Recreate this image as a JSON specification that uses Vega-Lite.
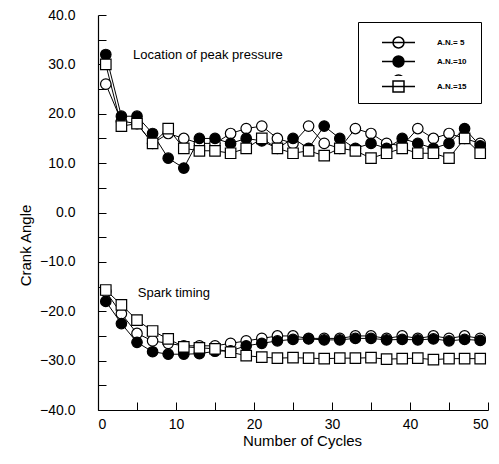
{
  "$schema": "https://vega.github.io/schema/vega-lite/v6.json",
  "width": 390,
  "height": 395,
  "autosize": "none",
  "padding": {"left": 98, "top": 15, "right": 11, "bottom": 54},
  "config": {
    "view": {"stroke": null},
    "font": "Liberation Sans",
    "axis": {"grid": false, "domainColor": "black", "domainWidth": 1.2, "tickColor": "black", "tickWidth": 1, "labelColor": "black", "titleColor": "black", "labelFont": "Liberation Sans", "titleFont": "Liberation Sans", "labelFontSize": 14, "titleFontSize": 15, "titleFontWeight": "normal"}
  },
  "datasets": {
    "pts": [
      {"series":"A.N.= 5","group":"peak","cycle":1,"value":26},{"series":"A.N.= 5","group":"peak","cycle":3,"value":18.5},{"series":"A.N.= 5","group":"peak","cycle":5,"value":18},{"series":"A.N.= 5","group":"peak","cycle":7,"value":14},{"series":"A.N.= 5","group":"peak","cycle":9,"value":16},{"series":"A.N.= 5","group":"peak","cycle":11,"value":15},{"series":"A.N.= 5","group":"peak","cycle":13,"value":14},{"series":"A.N.= 5","group":"peak","cycle":15,"value":14},{"series":"A.N.= 5","group":"peak","cycle":17,"value":16},{"series":"A.N.= 5","group":"peak","cycle":19,"value":17},{"series":"A.N.= 5","group":"peak","cycle":21,"value":17.5},{"series":"A.N.= 5","group":"peak","cycle":23,"value":15},{"series":"A.N.= 5","group":"peak","cycle":25,"value":14},{"series":"A.N.= 5","group":"peak","cycle":27,"value":17.5},{"series":"A.N.= 5","group":"peak","cycle":29,"value":14},{"series":"A.N.= 5","group":"peak","cycle":31,"value":13},{"series":"A.N.= 5","group":"peak","cycle":33,"value":17},{"series":"A.N.= 5","group":"peak","cycle":35,"value":16},{"series":"A.N.= 5","group":"peak","cycle":37,"value":14},{"series":"A.N.= 5","group":"peak","cycle":39,"value":13.5},{"series":"A.N.= 5","group":"peak","cycle":41,"value":17},{"series":"A.N.= 5","group":"peak","cycle":43,"value":15},{"series":"A.N.= 5","group":"peak","cycle":45,"value":16},{"series":"A.N.= 5","group":"peak","cycle":47,"value":15},{"series":"A.N.= 5","group":"peak","cycle":49,"value":14},
      {"series":"A.N.=10","group":"peak","cycle":1,"value":32},{"series":"A.N.=10","group":"peak","cycle":3,"value":19.5},{"series":"A.N.=10","group":"peak","cycle":5,"value":19.5},{"series":"A.N.=10","group":"peak","cycle":7,"value":16},{"series":"A.N.=10","group":"peak","cycle":9,"value":11},{"series":"A.N.=10","group":"peak","cycle":11,"value":9},{"series":"A.N.=10","group":"peak","cycle":13,"value":15},{"series":"A.N.=10","group":"peak","cycle":15,"value":15},{"series":"A.N.=10","group":"peak","cycle":17,"value":14},{"series":"A.N.=10","group":"peak","cycle":19,"value":15},{"series":"A.N.=10","group":"peak","cycle":21,"value":14.5},{"series":"A.N.=10","group":"peak","cycle":23,"value":13},{"series":"A.N.=10","group":"peak","cycle":25,"value":15},{"series":"A.N.=10","group":"peak","cycle":27,"value":13},{"series":"A.N.=10","group":"peak","cycle":29,"value":17.5},{"series":"A.N.=10","group":"peak","cycle":31,"value":15},{"series":"A.N.=10","group":"peak","cycle":33,"value":13},{"series":"A.N.=10","group":"peak","cycle":35,"value":14},{"series":"A.N.=10","group":"peak","cycle":37,"value":13},{"series":"A.N.=10","group":"peak","cycle":39,"value":15},{"series":"A.N.=10","group":"peak","cycle":41,"value":14},{"series":"A.N.=10","group":"peak","cycle":43,"value":13},{"series":"A.N.=10","group":"peak","cycle":45,"value":14},{"series":"A.N.=10","group":"peak","cycle":47,"value":17},{"series":"A.N.=10","group":"peak","cycle":49,"value":13.5},
      {"series":"A.N.=15","group":"peak","cycle":1,"value":30},{"series":"A.N.=15","group":"peak","cycle":3,"value":17.5},{"series":"A.N.=15","group":"peak","cycle":5,"value":18},{"series":"A.N.=15","group":"peak","cycle":7,"value":14},{"series":"A.N.=15","group":"peak","cycle":9,"value":17},{"series":"A.N.=15","group":"peak","cycle":11,"value":13},{"series":"A.N.=15","group":"peak","cycle":13,"value":12.5},{"series":"A.N.=15","group":"peak","cycle":15,"value":12.5},{"series":"A.N.=15","group":"peak","cycle":17,"value":12},{"series":"A.N.=15","group":"peak","cycle":19,"value":13},{"series":"A.N.=15","group":"peak","cycle":21,"value":15},{"series":"A.N.=15","group":"peak","cycle":23,"value":13},{"series":"A.N.=15","group":"peak","cycle":25,"value":12},{"series":"A.N.=15","group":"peak","cycle":27,"value":12.5},{"series":"A.N.=15","group":"peak","cycle":29,"value":11.5},{"series":"A.N.=15","group":"peak","cycle":31,"value":13},{"series":"A.N.=15","group":"peak","cycle":33,"value":12.5},{"series":"A.N.=15","group":"peak","cycle":35,"value":11},{"series":"A.N.=15","group":"peak","cycle":37,"value":12},{"series":"A.N.=15","group":"peak","cycle":39,"value":13},{"series":"A.N.=15","group":"peak","cycle":41,"value":12},{"series":"A.N.=15","group":"peak","cycle":43,"value":12},{"series":"A.N.=15","group":"peak","cycle":45,"value":11},{"series":"A.N.=15","group":"peak","cycle":47,"value":15},{"series":"A.N.=15","group":"peak","cycle":49,"value":12},
      {"series":"A.N.= 5","group":"spark","cycle":1,"value":-16},{"series":"A.N.= 5","group":"spark","cycle":3,"value":-20.5},{"series":"A.N.= 5","group":"spark","cycle":5,"value":-24.5},{"series":"A.N.= 5","group":"spark","cycle":7,"value":-26},{"series":"A.N.= 5","group":"spark","cycle":9,"value":-26.5},{"series":"A.N.= 5","group":"spark","cycle":11,"value":-27},{"series":"A.N.= 5","group":"spark","cycle":13,"value":-27},{"series":"A.N.= 5","group":"spark","cycle":15,"value":-27},{"series":"A.N.= 5","group":"spark","cycle":17,"value":-26.5},{"series":"A.N.= 5","group":"spark","cycle":19,"value":-26},{"series":"A.N.= 5","group":"spark","cycle":21,"value":-25.5},{"series":"A.N.= 5","group":"spark","cycle":23,"value":-25},{"series":"A.N.= 5","group":"spark","cycle":25,"value":-25},{"series":"A.N.= 5","group":"spark","cycle":27,"value":-25.5},{"series":"A.N.= 5","group":"spark","cycle":29,"value":-25.5},{"series":"A.N.= 5","group":"spark","cycle":31,"value":-25.5},{"series":"A.N.= 5","group":"spark","cycle":33,"value":-25},{"series":"A.N.= 5","group":"spark","cycle":35,"value":-25},{"series":"A.N.= 5","group":"spark","cycle":37,"value":-25.5},{"series":"A.N.= 5","group":"spark","cycle":39,"value":-25},{"series":"A.N.= 5","group":"spark","cycle":41,"value":-25.5},{"series":"A.N.= 5","group":"spark","cycle":43,"value":-25},{"series":"A.N.= 5","group":"spark","cycle":45,"value":-25.5},{"series":"A.N.= 5","group":"spark","cycle":47,"value":-25},{"series":"A.N.= 5","group":"spark","cycle":49,"value":-25.5},
      {"series":"A.N.=10","group":"spark","cycle":1,"value":-18},{"series":"A.N.=10","group":"spark","cycle":3,"value":-22.5},{"series":"A.N.=10","group":"spark","cycle":5,"value":-26.3},{"series":"A.N.=10","group":"spark","cycle":7,"value":-28.2},{"series":"A.N.=10","group":"spark","cycle":9,"value":-28.7},{"series":"A.N.=10","group":"spark","cycle":11,"value":-28.7},{"series":"A.N.=10","group":"spark","cycle":13,"value":-28.6},{"series":"A.N.=10","group":"spark","cycle":15,"value":-28.1},{"series":"A.N.=10","group":"spark","cycle":17,"value":-28},{"series":"A.N.=10","group":"spark","cycle":19,"value":-27},{"series":"A.N.=10","group":"spark","cycle":21,"value":-26.5},{"series":"A.N.=10","group":"spark","cycle":23,"value":-26},{"series":"A.N.=10","group":"spark","cycle":25,"value":-25.7},{"series":"A.N.=10","group":"spark","cycle":27,"value":-25.6},{"series":"A.N.=10","group":"spark","cycle":29,"value":-25.8},{"series":"A.N.=10","group":"spark","cycle":31,"value":-25.8},{"series":"A.N.=10","group":"spark","cycle":33,"value":-25.5},{"series":"A.N.=10","group":"spark","cycle":35,"value":-25.5},{"series":"A.N.=10","group":"spark","cycle":37,"value":-25.8},{"series":"A.N.=10","group":"spark","cycle":39,"value":-25.7},{"series":"A.N.=10","group":"spark","cycle":41,"value":-25.8},{"series":"A.N.=10","group":"spark","cycle":43,"value":-25.6},{"series":"A.N.=10","group":"spark","cycle":45,"value":-26},{"series":"A.N.=10","group":"spark","cycle":47,"value":-25.7},{"series":"A.N.=10","group":"spark","cycle":49,"value":-25.9},
      {"series":"A.N.=15","group":"spark","cycle":1,"value":-15.7},{"series":"A.N.=15","group":"spark","cycle":3,"value":-18.7},{"series":"A.N.=15","group":"spark","cycle":5,"value":-21.8},{"series":"A.N.=15","group":"spark","cycle":7,"value":-24},{"series":"A.N.=15","group":"spark","cycle":9,"value":-25.6},{"series":"A.N.=15","group":"spark","cycle":11,"value":-27.2},{"series":"A.N.=15","group":"spark","cycle":13,"value":-27.4},{"series":"A.N.=15","group":"spark","cycle":15,"value":-27.6},{"series":"A.N.=15","group":"spark","cycle":17,"value":-28.3},{"series":"A.N.=15","group":"spark","cycle":19,"value":-29},{"series":"A.N.=15","group":"spark","cycle":21,"value":-29.3},{"series":"A.N.=15","group":"spark","cycle":23,"value":-29.5},{"series":"A.N.=15","group":"spark","cycle":25,"value":-29.4},{"series":"A.N.=15","group":"spark","cycle":27,"value":-29.5},{"series":"A.N.=15","group":"spark","cycle":29,"value":-29.6},{"series":"A.N.=15","group":"spark","cycle":31,"value":-29.5},{"series":"A.N.=15","group":"spark","cycle":33,"value":-29.5},{"series":"A.N.=15","group":"spark","cycle":35,"value":-29.4},{"series":"A.N.=15","group":"spark","cycle":37,"value":-29.7},{"series":"A.N.=15","group":"spark","cycle":39,"value":-29.6},{"series":"A.N.=15","group":"spark","cycle":41,"value":-29.5},{"series":"A.N.=15","group":"spark","cycle":43,"value":-29.8},{"series":"A.N.=15","group":"spark","cycle":45,"value":-29.6},{"series":"A.N.=15","group":"spark","cycle":47,"value":-29.6},{"series":"A.N.=15","group":"spark","cycle":49,"value":-29.6}
    ],
    "notes": [
      {"cycle": 4.5, "value": 31.9, "label": "Location of peak pressure"},
      {"cycle": 5.1, "value": -16.3, "label": "Spark timing"}
    ]
  },
  "encoding": {
    "x": {"field": "cycle", "type": "quantitative", "scale": {"domain": [0, 50], "nice": false},
      "axis": {"title": "Number of Cycles", "values": [0,5,10,15,20,25,30,35,40,45,50], "labelExpr": "datum.value % 10 === 0 ? datum.label : ''", "tickSize": -8, "labelPadding": 15, "titleX": 204, "titleY": 30, "titleBaseline": "middle"}},
    "y": {"field": "value", "type": "quantitative", "scale": {"domain": [-40, 40], "nice": false},
      "axis": {"title": "Crank Angle", "values": [-40,-35,-30,-25,-20,-15,-10,-5,0,5,10,15,20,25,30,35,40], "labelExpr": "datum.value % 10 === 0 ? format(datum.value, '.1f') : ''", "tickSize": -8, "labelPadding": 31, "titleX": -73, "titleY": 230, "titleBaseline": "middle", "titleAlign": "center"}}
  },
  "layer": [
    {
      "data": {"name": "pts"},
      "mark": {"type": "line", "color": "black", "strokeWidth": 1},
      "encoding": {"detail": [{"field": "series"}, {"field": "group"}]}
    },
    {
      "data": {"name": "pts"},
      "transform": [{"filter": "datum.series !== 'A.N.=15'"}],
      "mark": {"type": "point", "size": 110, "strokeWidth": 1.2, "stroke": "black", "opacity": 1},
      "encoding": {
        "fill": {"field": "series", "type": "nominal", "scale": {"domain": ["A.N.= 5", "A.N.=10", "A.N.=15"], "range": ["white", "black", "white"]},
          "legend": {"title": null, "orient": "none", "legendX": 260, "legendY": 7, "zindex": 0, "strokeColor": "black", "fillColor": "white", "padding": 14, "symbolSize": 121, "symbolType": "M-3,0H3M1,0A1,1,0,1,1,-1,0A1,1,0,1,1,1,0Z", "symbolOffset": 20, "labelOffset": 32, "rowPadding": 2, "labelFontSize": 8, "labelFontWeight": "bold", "labelColor": "black", "labelFont": "Liberation Sans",
            "encode": {"symbols": {"update": {
              "fill": {"signal": "datum.value === 'A.N.=10' ? 'black' : 'white'"},
              "stroke": {"value": "black"},
              "strokeWidth": {"value": 1.2},
              "opacity": {"value": 1}}}}}}
      }
    },
    {
      "data": {"name": "pts"},
      "transform": [{"filter": "datum.series === 'A.N.=15'"}],
      "mark": {"type": "point", "shape": "square", "size": 110, "strokeWidth": 1.2, "fill": "white", "opacity": 1},
      "encoding": {
        "stroke": {"field": "series", "type": "nominal", "scale": {"domain": ["A.N.=15"], "range": ["black"]},
          "legend": {"title": null, "orient": "none", "legendX": 270, "legendY": 61, "zindex": 1, "strokeColor": null, "fillColor": "white", "padding": 4, "symbolSize": 121, "symbolType": "M-3,0H3M-1,-1H1V1H-1Z", "symbolOffset": 20, "labelOffset": 32, "labelFontSize": 8, "labelFontWeight": "bold", "labelColor": "black", "labelFont": "Liberation Sans",
            "encode": {"symbols": {"update": {
              "fill": {"value": "white"},
              "stroke": {"value": "black"},
              "strokeWidth": {"value": 1.2},
              "opacity": {"value": 1}}}}}}
      }
    },
    {
      "data": {"name": "notes"},
      "mark": {"type": "text", "align": "left", "baseline": "middle", "fontSize": 13, "font": "Liberation Sans", "color": "black"},
      "encoding": {"text": {"field": "label"}}
    }
  ]
}
